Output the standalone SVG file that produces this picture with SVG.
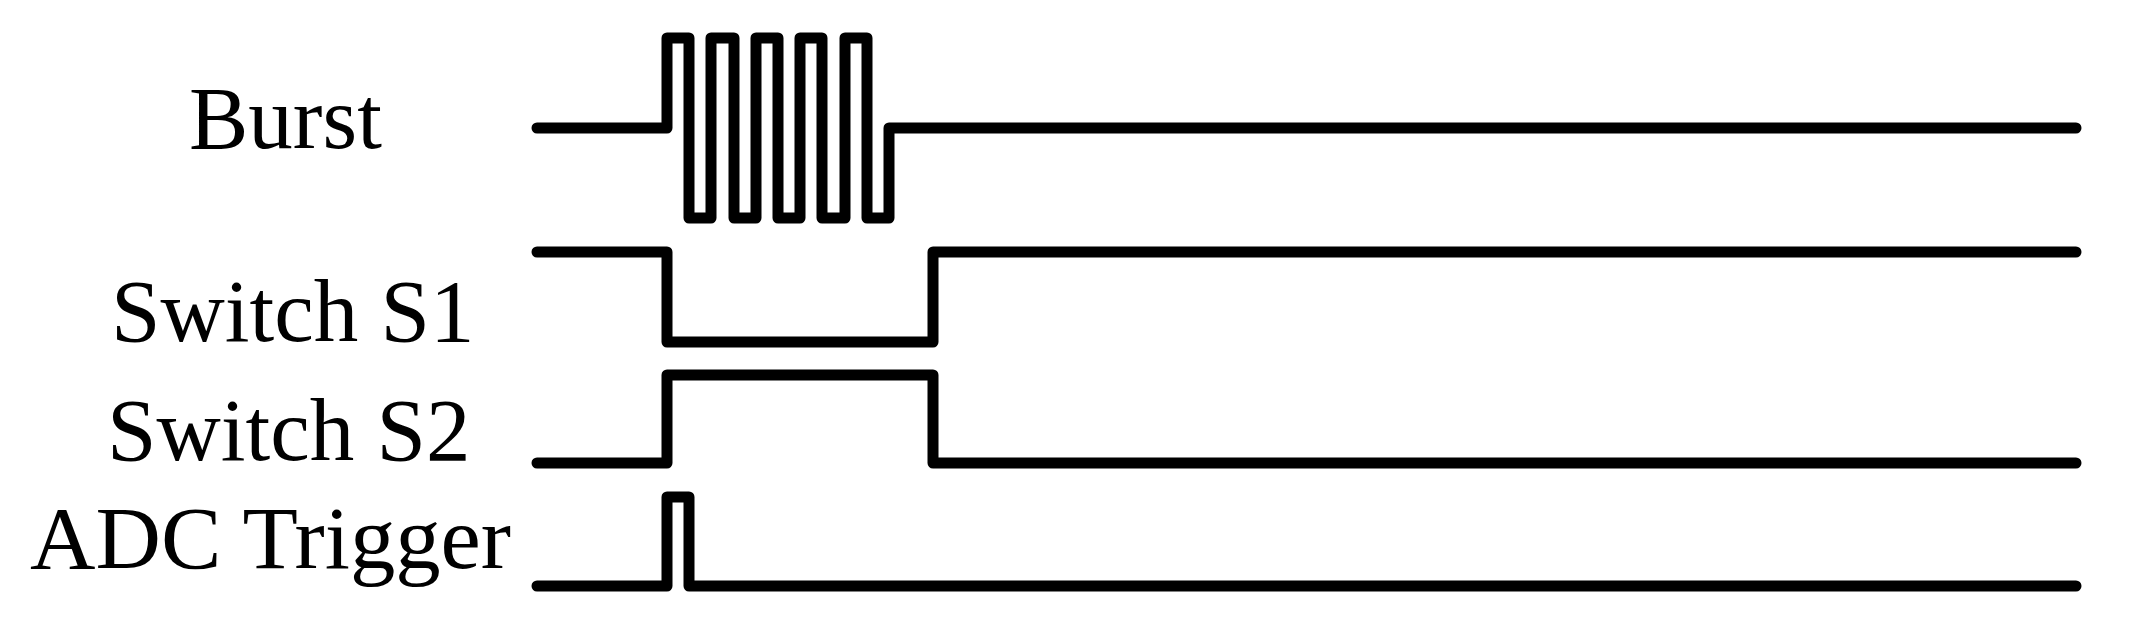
<svg xmlns="http://www.w3.org/2000/svg" width="2141" height="624" viewBox="0 0 2141 624">
<style>
.sig{fill:none;stroke:#000;stroke-width:11;stroke-linejoin:round;stroke-linecap:round}
.lbl{font-family:"Liberation Serif","Times New Roman",serif;font-size:89px;fill:#000}
</style>
<rect width="2141" height="624" fill="#fff"/>
<g id="burst">
<text class="lbl" x="189" y="148">Burst</text>
</g>
<g id="switch-s1">
<text class="lbl" x="111" y="341">Switch S1</text>
</g>
<g id="switch-s2">
<text class="lbl" x="107" y="460">Switch S2</text>
</g>
<g id="adc-trigger">
<text class="lbl" x="30" y="568" textLength="481" lengthAdjust="spacingAndGlyphs">ADC Trigger</text>
</g>
<g id="connectors">
<path class="sig" d="M537 128 H667 V38 H689 V218 H711 V38 H734 V218 H756 V38 H778 V218 H800 V38 H822 V218 H845 V38 H867 V218 H889 V128 H2076"/>
<path class="sig" d="M537 252 H667 V342 H933 V252 H2076"/>
<path class="sig" d="M537 463 H667 V375 H933 V463 H2076"/>
<path class="sig" d="M537 586 H667 V497 H689 V586 H2076"/>
</g>
</svg>
